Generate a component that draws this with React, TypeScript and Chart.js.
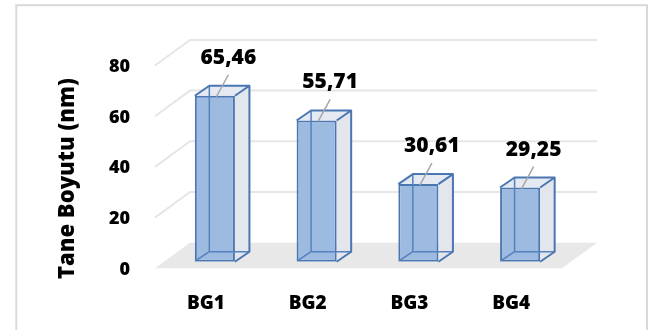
import { useEffect, useRef } from "react";
import { Chart, registerables } from "chart.js";

Chart.register(...registerables);

// Grain size per sample (nm)
const categories = ["BG1", "BG2", "BG3", "BG4"];
const grainSize = [65.46, 55.71, 30.61, 29.25];
const yMin = 0;
const yMax = 80;
const yStep = 20;
const axisTitle = "Tane Boyutu (nm)";

const FONT = "'Open Sans', Lato, 'DejaVu Sans', sans-serif";
const WEIGHT = 800;

// Oblique projection offsets, relative to the plane the bar fronts sit in
const BAR_DEPTH = { dx: 14.5, dy: -10 };
const FRONT_PLANE = { dx: -9, dy: 6.6 };
const BACK_PLANE = { dx: 26, dy: -19 };
const LABEL_OFFSET = { dx: 13.5, dy: -38 };

const EDGE = "#4a76b2";
const HIDDEN_EDGE = "#5581bd";
const GRID = "#e6e6e6";

const formatValue = (v: number) => v.toFixed(2).replace(".", ",");

const box3d = {
  id: "box3d",
  beforeDraw(chart: any) {
    const { ctx } = chart;
    ctx.save();
    ctx.fillStyle = "#ffffff";
    ctx.fillRect(0, 0, chart.width, chart.height);
    ctx.strokeStyle = "#d9d9d9";
    ctx.lineWidth = 2;
    ctx.strokeRect(16.3, 5.2, 630.7, 360);
    ctx.restore();
  },
  beforeDatasetsDraw(chart: any) {
    const { ctx, chartArea, scales } = chart;
    const { left, right } = chartArea;
    const y = scales.y;
    const y0 = y.getPixelForValue(0);
    ctx.save();

    // floor
    ctx.fillStyle = "#e8e8e8";
    ctx.beginPath();
    ctx.moveTo(left + FRONT_PLANE.dx, y0 + FRONT_PLANE.dy);
    ctx.lineTo(right + FRONT_PLANE.dx, y0 + FRONT_PLANE.dy);
    ctx.lineTo(right + BACK_PLANE.dx, y0 + BACK_PLANE.dy);
    ctx.lineTo(left + BACK_PLANE.dx, y0 + BACK_PLANE.dy);
    ctx.closePath();
    ctx.fill();

    // side wall and back wall gridlines
    ctx.strokeStyle = GRID;
    ctx.lineWidth = 2;
    for (const tick of y.ticks) {
      if (tick.value === 0) continue;
      const yv = y.getPixelForValue(tick.value);
      ctx.beginPath();
      ctx.moveTo(left + FRONT_PLANE.dx, yv + FRONT_PLANE.dy);
      ctx.lineTo(left + BACK_PLANE.dx, yv + BACK_PLANE.dy);
      ctx.lineTo(right + BACK_PLANE.dx, yv + BACK_PLANE.dy);
      ctx.stroke();
    }

    // right and top faces of each bar
    const meta = chart.getDatasetMeta(0);
    const { dx, dy } = BAR_DEPTH;
    for (const bar of meta.data) {
      const { x, y: top, base, width } = bar.getProps(["x", "y", "base", "width"], true);
      const L = x - width / 2;
      const R = x + width / 2;
      ctx.fillStyle = "#e3e6ec";
      ctx.beginPath();
      ctx.moveTo(R, top);
      ctx.lineTo(R + dx, top + dy);
      ctx.lineTo(R + dx, base + dy);
      ctx.lineTo(R, base);
      ctx.closePath();
      ctx.fill();
      ctx.fillStyle = "#e5e9f1";
      ctx.beginPath();
      ctx.moveTo(L, top);
      ctx.lineTo(R, top);
      ctx.lineTo(R + dx, top + dy);
      ctx.lineTo(L + dx, top + dy);
      ctx.closePath();
      ctx.fill();
    }
    ctx.restore();
  },
  afterDatasetsDraw(chart: any) {
    const { ctx } = chart;
    const meta = chart.getDatasetMeta(0);
    const values = chart.data.datasets[0].data as number[];
    const { dx, dy } = BAR_DEPTH;
    ctx.save();
    ctx.lineJoin = "round";
    meta.data.forEach((bar: any, i: number) => {
      const { x, y: top, base, width } = bar.getProps(["x", "y", "base", "width"], true);
      const L = x - width / 2;
      const R = x + width / 2;

      // edges seen through the front face
      ctx.strokeStyle = HIDDEN_EDGE;
      ctx.lineWidth = 1.5;
      ctx.beginPath();
      ctx.moveTo(L + dx, top + dy);
      ctx.lineTo(L + dx, base + dy);
      ctx.lineTo(R + dx, base + dy);
      ctx.moveTo(L + 1, base - 1);
      ctx.lineTo(L + dx, base + dy);
      ctx.stroke();

      // outer edges of top and right faces
      ctx.strokeStyle = EDGE;
      ctx.lineWidth = 2;
      ctx.beginPath();
      ctx.moveTo(L, top);
      ctx.lineTo(L + dx, top + dy);
      ctx.lineTo(R + dx, top + dy);
      ctx.lineTo(R, top);
      ctx.moveTo(R + dx, top + dy);
      ctx.lineTo(R + dx, base + dy);
      ctx.lineTo(R, base);
      ctx.stroke();

      // value label with leader line
      const lx = x + LABEL_OFFSET.dx;
      const ly = top + LABEL_OFFSET.dy;
      ctx.strokeStyle = "#a6a6a6";
      ctx.lineWidth = 1.5;
      ctx.beginPath();
      ctx.moveTo(lx, ly + 17);
      ctx.lineTo(x + 1.5, top + 1);
      ctx.stroke();

      ctx.fillStyle = "#000000";
      ctx.font = `${WEIGHT} 21px ${FONT}`;
      ctx.textAlign = "center";
      ctx.textBaseline = "middle";
      ctx.fillText(formatValue(values[i]), lx, ly);
    });

    // axis title
    ctx.translate(68, 178.5);
    ctx.rotate(-Math.PI / 2);
    ctx.fillStyle = "#000000";
    ctx.font = `${WEIGHT} 22px ${FONT}`;
    ctx.textAlign = "center";
    ctx.textBaseline = "middle";
    ctx.fillText(axisTitle, 0, 0);
    ctx.restore();
  },
};

export default function App() {
  const canvasRef = useRef<HTMLCanvasElement | null>(null);

  useEffect(() => {
    let chart: Chart | null = null;
    let cancelled = false;
    const build = () => {
      if (cancelled || !canvasRef.current) return;
      chart = new Chart(canvasRef.current, {
        type: "bar",
        data: {
          labels: categories,
          datasets: [
            {
              data: grainSize,
              backgroundColor: "#9dbbe1",
              borderColor: EDGE,
              borderWidth: 2,
              borderSkipped: false,
              barPercentage: 0.394,
              categoryPercentage: 1,
            },
          ],
        },
        options: {
          responsive: false,
          animation: false,
          devicePixelRatio: 1,
          layout: { padding: { left: 0, top: 58.9, right: 83, bottom: 0 } },
          plugins: { legend: { display: false }, tooltip: { enabled: false } },
          scales: {
            x: {
              grid: { display: false },
              border: { display: false },
              ticks: {
                color: "#000000",
                font: { family: FONT, size: 19, weight: WEIGHT },
                padding: 22,
                labelOffset: -9,
              },
              afterFit: (scale: any) => {
                scale.height = 68.3;
              },
            },
            y: {
              min: yMin,
              max: yMax,
              grid: { display: false },
              border: { display: false },
              ticks: {
                stepSize: yStep,
                color: "#000000",
                font: { family: FONT, size: 18, weight: WEIGHT },
                padding: 26,
                labelOffset: 8,
              },
              afterFit: (scale: any) => {
                scale.width = 164;
              },
            },
          },
        },
        plugins: [box3d],
      });
    };
    const fonts = (document as any).fonts;
    if (fonts && fonts.load) {
      Promise.all([fonts.load(`${WEIGHT} 20px 'Open Sans'`)]).then(build, build);
    } else {
      build();
    }
    return () => {
      cancelled = true;
      if (chart) chart.destroy();
    };
  }, []);

  return (
    <div style={{ position: "absolute", left: 0, top: 0, width: 654, height: 330 }}>
      <canvas ref={canvasRef} width={654} height={330} />
    </div>
  );
}
